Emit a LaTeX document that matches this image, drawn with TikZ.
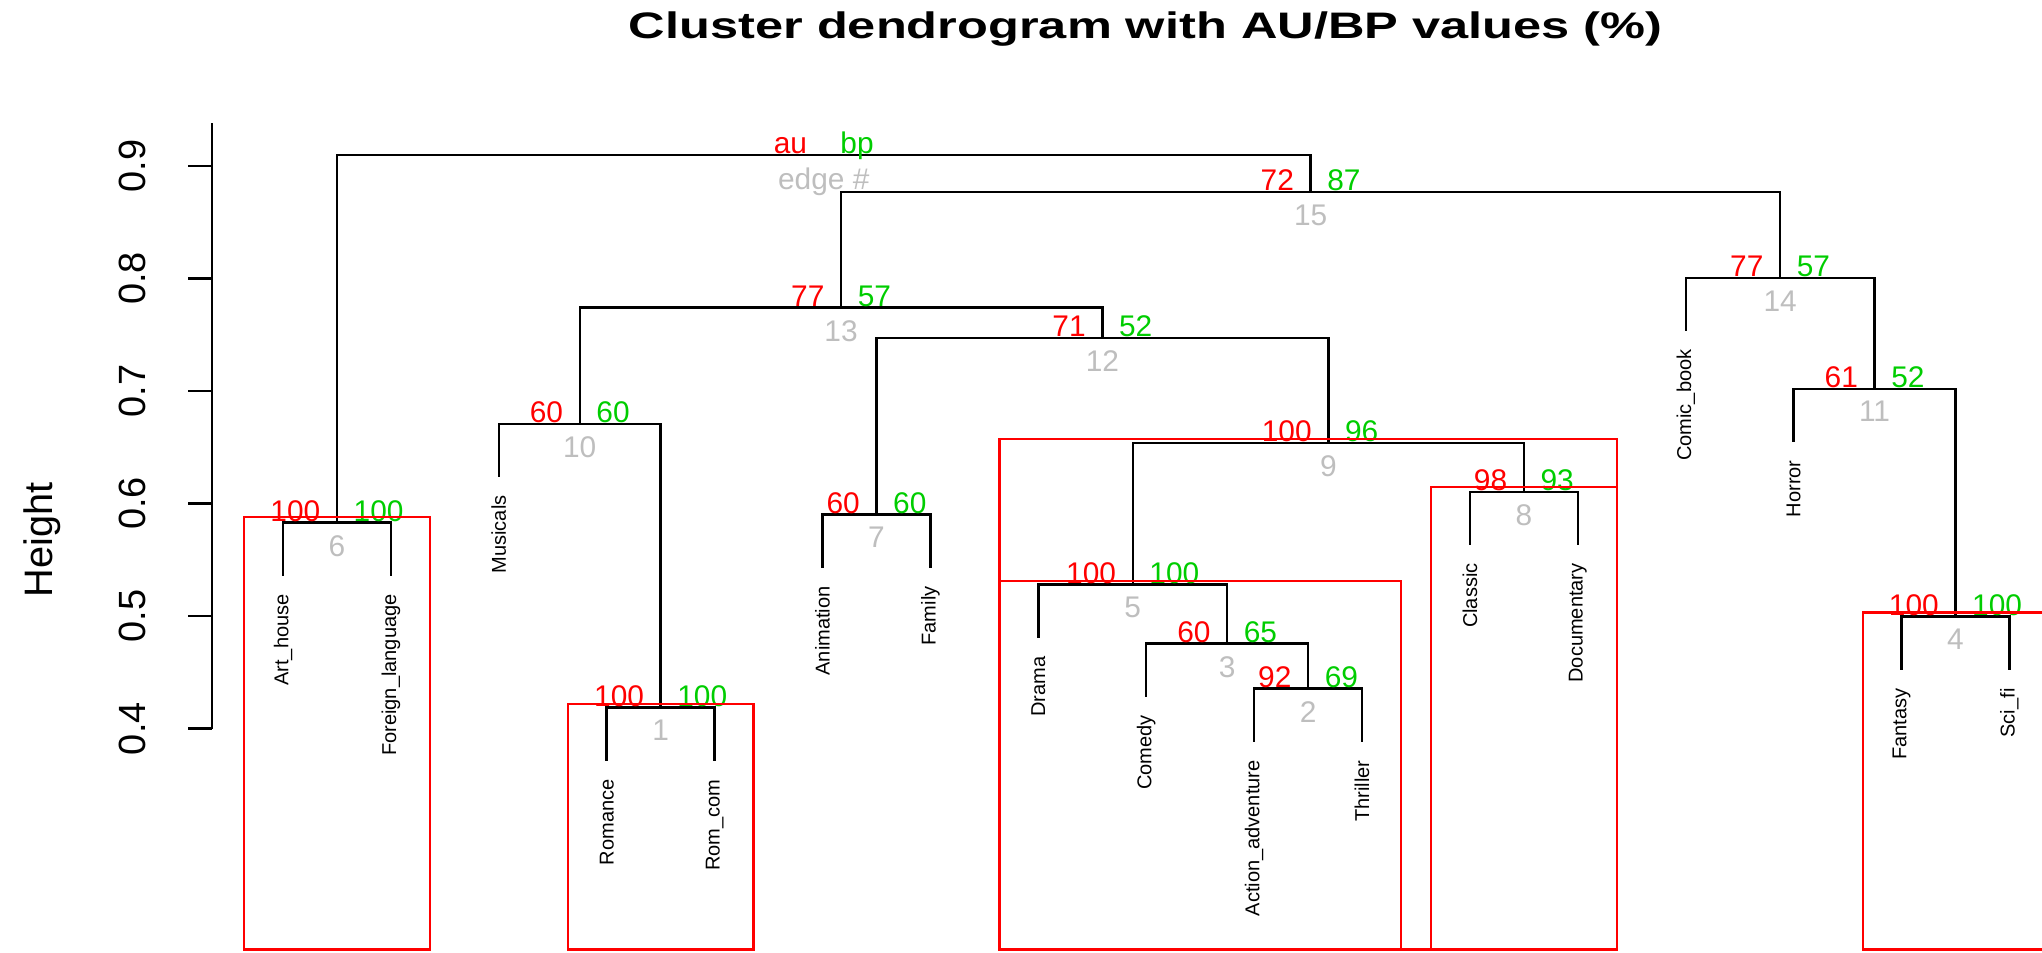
\documentclass[tikz,border=0pt]{standalone}
\usepackage{fontspec}
\setmainfont{Liberation Sans}
\newfontfamily\titlefont[FakeStretch=1.37]{Liberation Sans}
\usepackage{tikz}
\usetikzlibrary{positioning}
\definecolor{aured}{RGB}{255,0,0}
\definecolor{bpgreen}{RGB}{0,205,0}
\definecolor{edgegray}{RGB}{190,190,190}

\begin{document}
\begin{tikzpicture}[
    x=1.0794cm, y=11.26cm,
    branch/.style={draw=black, line width=0.7pt},
    pvbox/.style={draw=aured, line width=0.65pt},
    leaf/.style={rotate=90, anchor=east, inner sep=0pt,
        font=\fontsize{5.7}{6}\selectfont},
    au/.style={text=aured, anchor=base east, inner sep=0pt,
        xshift=-0.16cm, yshift=0.01cm, font=\fontsize{8.5}{10}\selectfont},
    bp/.style={text=bpgreen, anchor=base west, inner sep=0pt,
        xshift=0.16cm, yshift=0.01cm, font=\fontsize{8.5}{10}\selectfont},
    edgeno/.style={text=edgegray, anchor=north, inner sep=0pt,
        yshift=-0.12cm, font=\fontsize{8.5}{10}\selectfont},
    ticklab/.style={rotate=90, anchor=south, inner sep=0pt,
        font=\fontsize{10.8}{12}\selectfont}
]
\useasboundingbox (-2.623,0.2011) rectangle (16.302,1.0474);
\clip (-2.623,0.2011) rectangle (16.302,1.0474);

\node[anchor=base] (title) at (7.995,1.0135)
    {\titlefont\bfseries\fontsize{10.5}{12}\selectfont Cluster dendrogram with AU/BP values (\%)};

% axis
\draw[branch] (-0.658,0.4) -- (-0.658,0.9382);
\foreach \t in {0.4,0.5,0.6,0.7,0.8,0.9} {
    \draw[branch] (-0.88,\t) -- (-0.658,\t);
    \node[ticklab] (tick\t) at (-1.26,\t) {\t};
}
\node[rotate=90, anchor=base, inner sep=0pt, font=\fontsize{11.3}{13}\selectfont]
    (ylab) at (-2.14,0.5679) {Height};

% leaves
\foreach \i/\n/\lab/\h in {
    0/art/Art\_house/0.5359, 1/for/Foreign\_language/0.5359,
    2/mus/Musicals/0.6238, 3/rom/Romance/0.3716, 4/rcom/Rom\_com/0.3716,
    5/ani/Animation/0.5430, 6/fam/Family/0.5430, 7/dra/Drama/0.4808,
    8/com/Comedy/0.4284, 9/act/Action\_adventure/0.3884, 10/thr/Thriller/0.3884,
    11/cla/Classic/0.5634, 12/doc/Documentary/0.5634, 13/cbk/Comic\_book/0.7535,
    14/hor/Horror/0.6549, 15/fan/Fantasy/0.4524, 16/sci/Sci\_fi/0.4524} {
    \coordinate (t\n) at (\i,\h);
    \node[leaf] (\n) at ([yshift=-0.18cm]t\n) {\lab};
}

% merges
\coordinate (n1) at (3.5,0.4187);
\coordinate (n2) at (9.5,0.4355);
\coordinate (n3) at (8.75,0.4755);
\coordinate (n4) at (15.5,0.4995);
\coordinate (n5) at (7.875,0.5279);
\coordinate (n6) at (0.5,0.5830);
\coordinate (n7) at (5.5,0.5901);
\coordinate (n8) at (11.5,0.6105);
\coordinate (n9) at (9.6875,0.6540);
\coordinate (n10) at (2.75,0.6709);
\coordinate (n11) at (14.75,0.7020);
\coordinate (n12) at (7.59375,0.7473);
\coordinate (n13) at (5.171875,0.7740);
\coordinate (n14) at (13.875,0.8006);
\coordinate (n15) at (9.5234,0.8770);
\coordinate (n16) at (5.0117,0.9098);

\draw[branch] (trom) |- (n1) -| (trcom);
\draw[branch] (tact) |- (n2) -| (tthr);
\draw[branch] (tcom) |- (n3) -| (n2);
\draw[branch] (tfan) |- (n4) -| (tsci);
\draw[branch] (tdra) |- (n5) -| (n3);
\draw[branch] (tart) |- (n6) -| (tfor);
\draw[branch] (tani) |- (n7) -| (tfam);
\draw[branch] (tcla) |- (n8) -| (tdoc);
\draw[branch] (n5) |- (n9) -| (n8);
\draw[branch] (tmus) |- (n10) -| (n1);
\draw[branch] (thor) |- (n11) -| (n4);
\draw[branch] (n7) |- (n12) -| (n9);
\draw[branch] (n10) |- (n13) -| (n12);
\draw[branch] (tcbk) |- (n14) -| (n11);
\draw[branch] (n13) |- (n15) -| (n14);
\draw[branch] (n6) |- (n16) -| (n15);

% au / bp / edge numbers
\foreach \n/\a/\b/\e in {
    n1/100/100/1, n2/92/69/2, n3/60/65/3, n4/100/100/4, n5/100/100/5,
    n6/100/100/6, n7/60/60/7, n8/98/93/8, n9/100/96/9, n10/60/60/10,
    n11/61/52/11, n12/71/52/12, n13/77/57/13, n14/77/57/14, n15/72/87/15,
    n16/au/bp/edge \#} {
    \node[au] (au-\n) at (\n) {\a};
    \node[bp] (bp-\n) at (\n) {\b};
    \node[edgeno] (no-\n) at (\n) {\e};
}

% clusters with high au
\draw[pvbox] (-0.36,0.2037) rectangle (1.36,0.5883);
\draw[pvbox] (2.64,0.2037) rectangle (4.36,0.4222);
\draw[pvbox] (6.64,0.2037) rectangle (12.36,0.6575);
\draw[pvbox] (6.64,0.2037) rectangle (10.36,0.5315);
\draw[pvbox] (10.64,0.2037) rectangle (12.36,0.6149);
\draw[pvbox] (14.64,0.2037) rectangle (16.36,0.5031);

\end{tikzpicture}
\end{document}
